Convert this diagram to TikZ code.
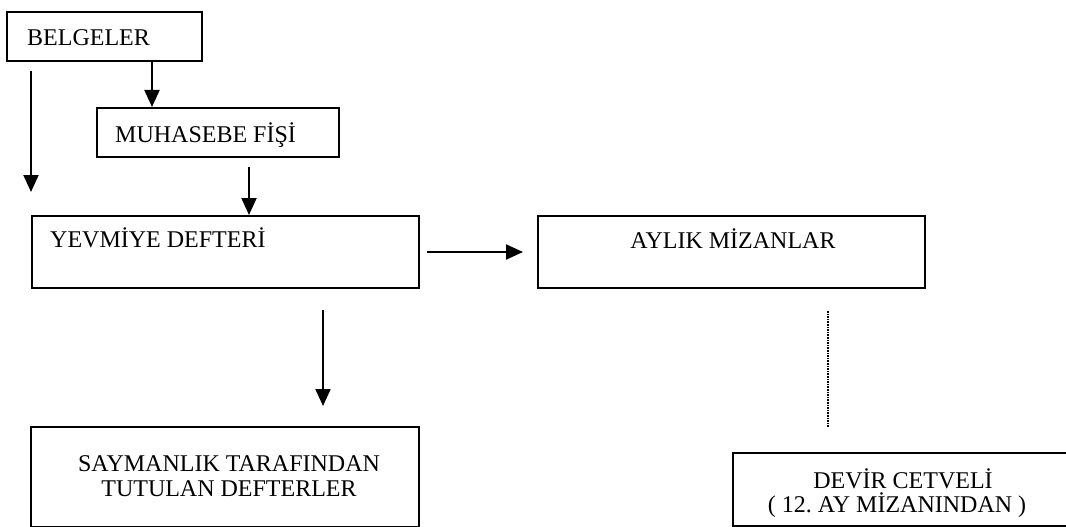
\documentclass[tikz,border=0pt]{standalone}
\usepackage{fontspec}
\setmainfont{Liberation Serif}
\usetikzlibrary{arrows.meta}
\tikzset{
  box/.style={draw, line width=2pt, rectangle, inner sep=0pt, anchor=north west},
  openbox/.style={rectangle, inner sep=0pt, anchor=north west},
  txt/.style={inner sep=0pt, font=\fontsize{24}{27}\selectfont},
  arr/.style={line width=2pt, -{Triangle[length=17pt,width=15pt]}},
  dotline/.style={line width=2pt, dash pattern=on 1.6pt off 1pt}
}
\frenchspacing
\begin{document}
\begin{tikzpicture}[x=1pt,y=-1pt]
\useasboundingbox (0,0) rectangle (1066,527);
% boxes
\node[box, minimum width=195pt, minimum height=49pt] (bel) at (6,11) {};
\node[box, minimum width=242pt, minimum height=49pt] (muh) at (96,107) {};
\node[box, minimum width=387pt, minimum height=72pt] (yev) at (31,215) {};
\node[box, minimum width=387pt, minimum height=72pt] (ayl) at (537,215) {};
\node[box, minimum width=388pt, minimum height=100pt] (say) at (30,426) {};
\node[openbox, minimum width=333pt, minimum height=73pt] (dev) at (733,453) {};
\draw[line width=2pt] (dev.north east) -- (dev.north west) -- (dev.south west) -- (dev.south east);
% texts
\node[txt, anchor=base west] (belt) at (27,46) {BELGELER};
\node[txt, anchor=base west] (muht) at (115,142) {MUHASEBE FİŞİ};
\node[txt, anchor=base west] (yevt) at (50,247) {YEVMİYE DEFTERİ};
\node[txt, anchor=base] (aylt) at (733,248) {AYLIK MİZANLAR};
\node[txt, anchor=base] (sayt1) at (229,471) {SAYMANLIK TARAFINDAN};
\node[txt, anchor=base] (sayt2) at (229,496) {TUTULAN DEFTERLER};
\node[txt, anchor=base] (devt1) at (903,488) {DEVİR CETVELİ};
\node[txt, anchor=base] (devt2) at (897,512) {( 12. AY MİZANINDAN )};
% free connector ends
\coordinate (l1) at (31,71);
\coordinate (l2) at (31,192);
\coordinate (m1) at (249,167);
\coordinate (h1) at (427,252);
\coordinate (h2) at (523,252);
\coordinate (d1) at (323,310);
\coordinate (d2) at (323,406);
\coordinate (p1) at (828,311);
\coordinate (p2) at (828,428);
% connectors
\draw[arr] (bel.south -| 152,0) -- (muh.north -| 152,0);
\draw[arr] (l1) -- (l2);
\draw[arr] (m1) -- (yev.north -| m1);
\draw[arr] (h1) -- (h2);
\draw[arr] (d1) -- (d2);
\draw[dotline] (p1) -- (p2);
\end{tikzpicture}
\end{document}
